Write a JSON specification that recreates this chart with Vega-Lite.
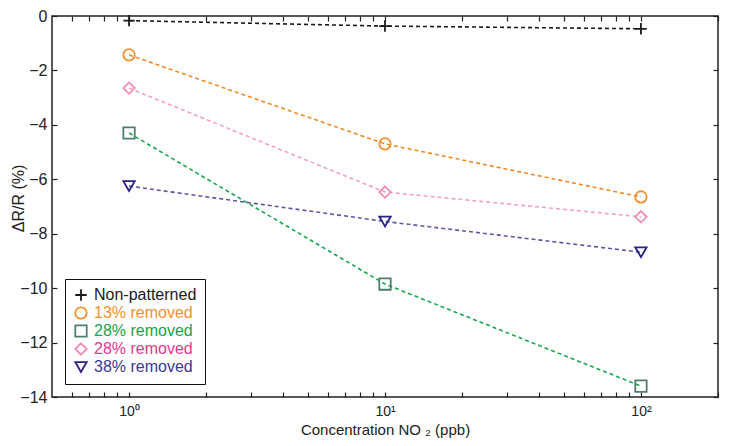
{
  "$schema": "https://vega.github.io/schema/vega-lite/v6.json",
  "width": 666,
  "height": 381,
  "autosize": "none",
  "padding": {"left": 52, "top": 16, "right": 11, "bottom": 49},
  "background": "white",
  "config": {
    "view": {"stroke": "#222", "strokeWidth": 1.5},
    "font": "Liberation Sans",
    "axis": {"grid": false, "domain": false, "tickColor": "#222", "tickWidth": 1.2, "labelColor": "#222", "titleColor": "#222", "labelFont": "Liberation Sans", "titleFont": "Liberation Sans", "labelFontSize": 15, "titleFontSize": 15, "titleFontWeight": "normal"}
  },
  "data": {"values": [
    {"series": "Non-patterned", "conc": 1, "dr": -0.17},
    {"series": "Non-patterned", "conc": 10, "dr": -0.37},
    {"series": "Non-patterned", "conc": 100, "dr": -0.47},
    {"series": "13% removed", "conc": 1, "dr": -1.43},
    {"series": "13% removed", "conc": 10, "dr": -4.7},
    {"series": "13% removed", "conc": 100, "dr": -6.65},
    {"series": "28% removed - square", "conc": 1, "dr": -4.3},
    {"series": "28% removed - square", "conc": 10, "dr": -9.85},
    {"series": "28% removed - square", "conc": 100, "dr": -13.6},
    {"series": "28% removed - diamond", "conc": 1, "dr": -2.65},
    {"series": "28% removed - diamond", "conc": 10, "dr": -6.47},
    {"series": "28% removed - diamond", "conc": 100, "dr": -7.38},
    {"series": "38% removed", "conc": 1, "dr": -6.25},
    {"series": "38% removed", "conc": 10, "dr": -7.55},
    {"series": "38% removed", "conc": 100, "dr": -8.68}
  ]},
  "layer": [
    {
      "mark": {"type": "line", "strokeDash": [4, 3], "strokeWidth": 1.6},
      "encoding": {
        "x": {"field": "conc", "type": "quantitative", "scale": {"type": "log", "domain": [0.5, 200], "nice": false},
          "axis": {"orient": "top", "labels": false, "title": null, "tickSize": -5, "values": [0.6,0.7,0.8,0.9,1,2,3,4,5,6,7,8,9,10,20,30,40,50,60,70,80,90,100,200]}},
        "y": {"field": "dr", "type": "quantitative", "scale": {"domain": [-14, 0], "nice": false},
          "axis": {"orient": "right", "labels": false, "title": null, "tickSize": -5, "values": [-14,-12,-10,-8,-6,-4,-2,0]}},
        "stroke": {"field": "series", "type": "nominal", "legend": null,
          "scale": {"domain": ["38% removed", "28% removed - diamond", "28% removed - square", "13% removed", "Non-patterned"],
            "range": ["#5B59A8", "#F5A3B6", "#18A84F", "#F08A24", "#1a1a1a"]}}
      }
    },
    {
      "mark": {"type": "point", "filled": false, "strokeWidth": 1.8, "size": 130, "opacity": 1},
      "encoding": {
        "x": {"field": "conc", "type": "quantitative", "scale": {"type": "log", "domain": [0.5, 200], "nice": false},
          "axis": {"orient": "bottom", "title": "Concentration NO ₂ (ppb)", "tickSize": -5, "labelPadding": 12, "labelFontSize": 14, "titlePadding": 4,
            "values": [0.6,0.7,0.8,0.9,1,2,3,4,5,6,7,8,9,10,20,30,40,50,60,70,80,90,100,200],
            "labelExpr": "datum.value == 1 ? '10⁰' : datum.value == 10 ? '10¹' : datum.value == 100 ? '10²' : ''"}},
        "y": {"field": "dr", "type": "quantitative", "scale": {"domain": [-14, 0], "nice": false},
          "axis": {"orient": "left", "title": "ΔR/R  (%)", "tickSize": -5, "labelPadding": 10, "labelFontSize": 16, "titleFontSize": 16, "titleX": -26, "titleY": 182,
            "values": [-14,-12,-10,-8,-6,-4,-2,0]}},
        "color": {"field": "series", "type": "nominal", "title": null,
          "scale": {"domain": ["Non-patterned", "13% removed", "28% removed - square", "28% removed - diamond", "38% removed"],
            "range": ["#1a1a1a", "#F39131", "#4F7F68", "#F28CB8", "#2B2583"]},
          "legend": {"orient": "bottom-left", "offset": 13, "padding": 8, "strokeColor": "#111", "fillColor": "white",
            "labelFontSize": 16, "labelFont": "Liberation Sans", "rowPadding": -4, "symbolSize": 130, "symbolStrokeWidth": 1.8, "labelOffset": 5,
            "labelExpr": "indexof(datum.label, '28%') == 0 ? '28% removed' : datum.label",
            "labelColor": {"expr": "datum.value === 'Non-patterned' ? '#1a1a1a' : datum.value === '13% removed' ? '#F2902E' : datum.value === '28% removed - square' ? '#20A050' : datum.value === '28% removed - diamond' ? '#E6388C' : '#3A3890'"},
            "encode": {
              "legend": {"strokeWidth": {"value": 2}}
            }}},
        "shape": {"field": "series", "type": "nominal", "title": null,
          "scale": {"domain": ["Non-patterned", "13% removed", "28% removed - square", "28% removed - diamond", "38% removed"],
            "range": ["M-1,0H1M0,-1V1", "circle", "square", "diamond", "triangle-down"]}}
      }
    }
  ],
  "resolve": {"axis": {"x": "independent", "y": "independent"}}
}
